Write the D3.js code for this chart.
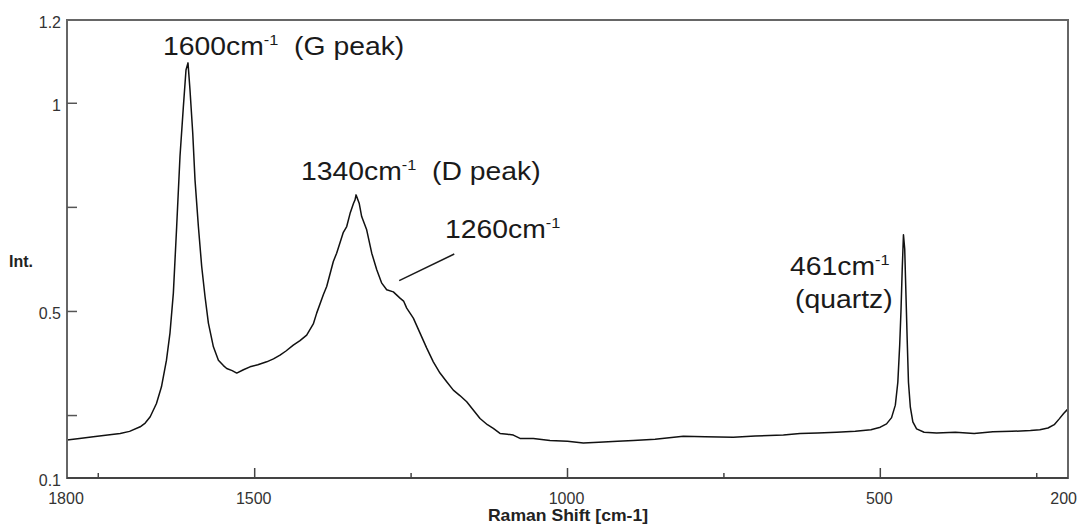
<!DOCTYPE html>
<html>
<head>
<meta charset="utf-8">
<script src="https://cdn.jsdelivr.net/npm/d3@7/dist/d3.min.js"></script>
<style>
  html, body { margin: 0; padding: 0; background: #ffffff; }
  svg { display: block; }
</style>
</head>
<body>
<svg id="chart" width="1078" height="527"></svg>
<script>
// ---- data (Raman shift in cm-1, intensity) ----
const shift = [
  1800, 1780, 1758, 1735, 1715, 1700, 1683, 1675, 1667, 1657, 1649, 1641, 1635.4, 1630, 1624.7,
  1619.4, 1614, 1609.8, 1606.6, 1603.4, 1599, 1595.4, 1590, 1584.7, 1579.4, 1574, 1566, 1558,
  1550, 1544.7, 1536, 1528.7, 1518, 1507.5, 1495, 1480.8, 1470, 1459.5, 1450, 1438.3, 1427.6,
  1416.9, 1406.3, 1400.9, 1390.3, 1384.9, 1374.3, 1369, 1358.3, 1352.9, 1347.6, 1342, 1339.6,
  1338, 1333, 1329, 1321, 1312.9, 1304.9, 1296.9, 1289, 1278.4, 1267.7, 1262, 1257, 1246.4,
  1235.7, 1225, 1214.5, 1203.8, 1193.1, 1182.5, 1172, 1161.1, 1150, 1139.8, 1128, 1118.6,
  1107.9, 1096, 1086.6, 1075.9, 1054.6, 1028, 1000, 974.7, 950, 920, 894.8, 860, 814.9, 780,
  734.9, 700, 654.9, 628.3, 600, 570, 540, 515, 500, 490, 482, 476, 472, 469, 467, 465, 463,
  461, 459, 457, 455, 452, 448, 442, 430, 410, 380, 350, 320, 290, 260, 245, 232, 222, 214,
  207, 200
];
const intensity = [
  0.191, 0.195, 0.199, 0.203, 0.207, 0.212, 0.223, 0.232, 0.247, 0.279, 0.319, 0.383, 0.448, 0.544, 0.704,
  0.872, 0.992, 1.080, 1.097, 1.032, 0.928, 0.816, 0.704, 0.608, 0.536, 0.472, 0.415, 0.383,
  0.370, 0.363, 0.358, 0.352, 0.360, 0.367, 0.372, 0.379, 0.386, 0.395, 0.405, 0.419, 0.430,
  0.443, 0.470, 0.496, 0.540, 0.560, 0.620, 0.640, 0.690, 0.704, 0.735, 0.760, 0.768,
  0.780, 0.760, 0.728, 0.696, 0.640, 0.600, 0.568, 0.552, 0.547, 0.532, 0.525, 0.508, 0.484,
  0.448, 0.412, 0.379, 0.352, 0.331, 0.311, 0.298, 0.283, 0.262, 0.243, 0.228, 0.219,
  0.207, 0.205, 0.203, 0.195, 0.195, 0.190, 0.188, 0.184, 0.186, 0.188, 0.190, 0.193, 0.200, 0.199,
  0.198, 0.201, 0.203, 0.207, 0.208, 0.210, 0.212, 0.216, 0.222, 0.230, 0.245, 0.275, 0.330, 0.420, 0.500, 0.600, 0.684,
  0.650, 0.540, 0.430, 0.330, 0.270, 0.235, 0.218, 0.210, 0.208, 0.210, 0.207, 0.211, 0.212, 0.214, 0.216, 0.220, 0.228, 0.242,
  0.255, 0.266
];

const xMajor = [1500, 1000, 500];
const xMinor = [1750, 1250, 750, 250];
const xLabels = [1800, 1500, 1000, 500, 200];
const yTicks = [0.25, 0.5, 0.75, 1];
const yLabels = [1.2, 1, 0.5, 0.1];

const annMain = ["1600cm", "1340cm", "1260cm", "461cm", "(quartz)"];
const annSup = ["-1", "-1", "-1", "-1", ""];
const annTail = ["  (G peak)", "  (D peak)", "", "", ""];

// ---- layout ----
const svg = d3.select("#chart");
const L = 67, R = 1068, T = 20, B = 478;
const x = d3.scaleLinear().domain([1800, 200]).range([L, R]);
const y = d3.scaleLinear().domain([0.1, 1.2]).range([B, T]);
const FONT = "'Liberation Sans', Arial, sans-serif";

// spectrum
const pts = shift.map((s, i) => [s, intensity[i]]);
svg.append("path")
  .datum(pts)
  .attr("fill", "none")
  .attr("stroke", "#111")
  .attr("stroke-width", 1.5)
  .attr("stroke-linejoin", "round")
  .attr("d", d3.line().x(d => x(d[0])).y(d => y(d[1])));

// frame
svg.append("rect")
  .attr("x", L).attr("y", T).attr("width", R - L).attr("height", B - T)
  .attr("fill", "none").attr("stroke", "#666").attr("stroke-width", 2);
svg.append("line").attr("x1", L).attr("x2", R).attr("y1", B).attr("y2", B)
  .attr("stroke", "#444").attr("stroke-width", 2);

// x ticks
const gx = svg.append("g");
gx.selectAll("line.maj").data(xMajor).join("line")
  .attr("x1", d => x(d)).attr("x2", d => x(d)).attr("y1", B).attr("y2", B - 10)
  .attr("stroke", "#444").attr("stroke-width", 1.5);
gx.selectAll("line.min").data(xMinor).join("line")
  .attr("x1", d => x(d)).attr("x2", d => x(d)).attr("y1", B).attr("y2", B - 5)
  .attr("stroke", "#444").attr("stroke-width", 1.5);
gx.selectAll("text").data(xLabels).join("text")
  .attr("x", d => d === 200 ? 1077 : x(d) - 1).attr("y", 503.5)
  .attr("text-anchor", d => d === 200 ? "end" : "middle")
  .attr("font-family", FONT).attr("font-size", 16).attr("fill", "#333")
  .text(d => d);

// y ticks
const gy = svg.append("g");
gy.selectAll("line").data(yTicks).join("line")
  .attr("x1", L).attr("x2", L + 10).attr("y1", d => y(d)).attr("y2", d => y(d))
  .attr("stroke", "#555").attr("stroke-width", 1.5);
gy.selectAll("text").data(yLabels).join("text")
  .attr("x", 61).attr("y", d => y(d) + 7.5)
  .attr("text-anchor", "end")
  .attr("font-family", FONT).attr("font-size", 16).attr("fill", "#333")
  .text(d => d);

// axis titles
svg.append("text")
  .attr("transform", "translate(568,521) scale(1.1,1)")
  .attr("text-anchor", "middle")
  .attr("font-family", FONT).attr("font-size", 16).attr("font-weight", "bold").attr("fill", "#222")
  .text("Raman Shift [cm-1]");
svg.append("text")
  .attr("x", 9).attr("y", 267)
  .attr("font-family", FONT).attr("font-size", 16).attr("font-weight", "bold").attr("fill", "#222")
  .text("Int.");

// annotations
const annPos = [
  [163, 55], [301, 180], [445, 238], [790, 275], [795, 308]
];
annMain.forEach((m, i) => {
  const t = svg.append("text")
    .attr("transform", `translate(${annPos[i][0]},${annPos[i][1]}) scale(1.09,1)`)
    .attr("font-family", FONT).attr("font-size", 26).attr("fill", "#1a1a1a")
    .style("white-space", "pre");
  t.append("tspan").text(m);
  if (annSup[i]) {
    t.append("tspan").attr("font-size", 15).attr("dy", -10).text(annSup[i]);
  }
  if (annTail[i]) {
    t.append("tspan").attr("dy", annSup[i] ? 10 : 0).text(annTail[i]);
  }
});

// leader line for the 1260 shoulder
svg.append("line")
  .attr("x1", x(1269)).attr("y1", y(0.574))
  .attr("x2", x(1181)).attr("y2", y(0.638))
  .attr("stroke", "#1a1a1a").attr("stroke-width", 1.5);
</script>
</body>
</html>
